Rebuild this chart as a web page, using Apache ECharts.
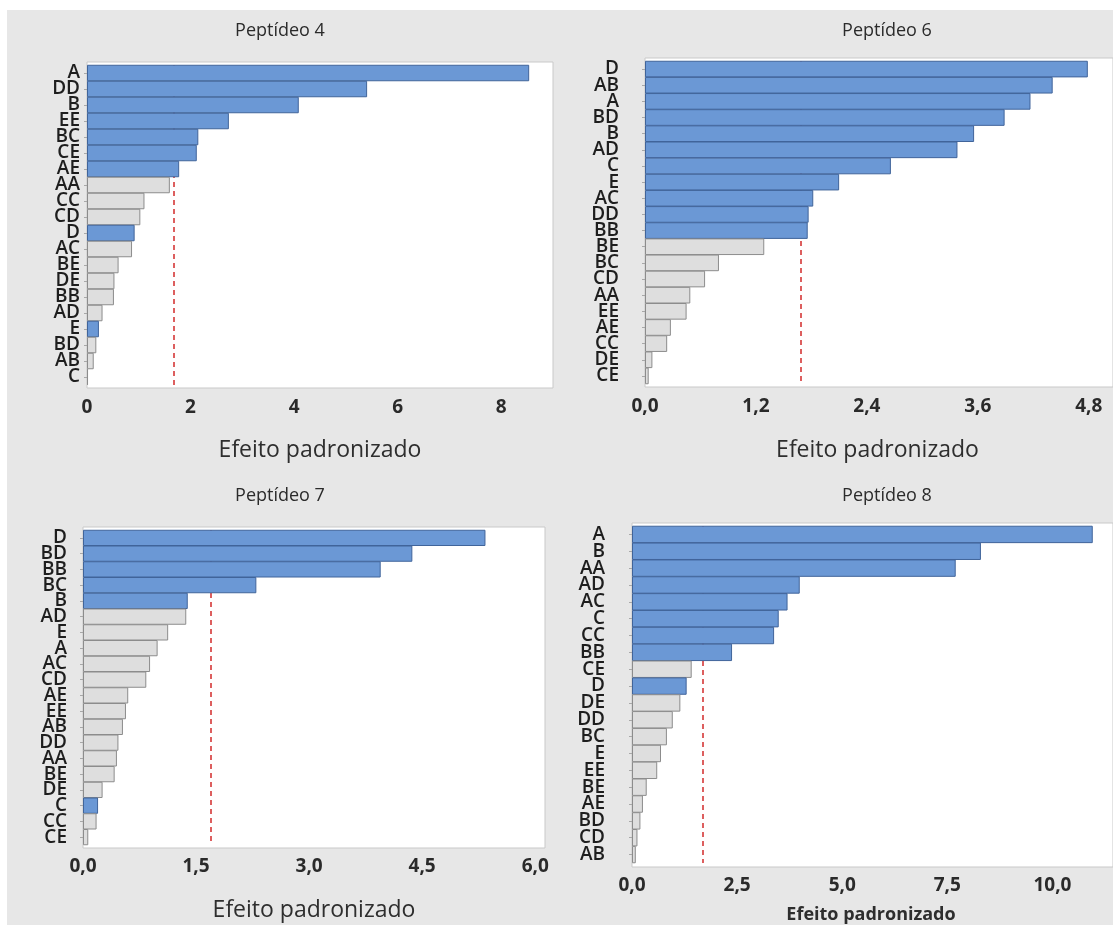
<!DOCTYPE html>
<html>
<head>
<meta charset="utf-8">
<title>Efeito padronizado</title>
<script src="https://cdn.jsdelivr.net/npm/echarts@6/dist/echarts.min.js"></script>
<style>
  html, body { margin: 0; padding: 0; background: #fff; }
  #chart { width: 1113px; height: 925px; }
</style>
</head>
<body>
<div id="chart"></div>
<script>
// Peptídeo 4
const termos4 = ['A', 'DD', 'B', 'EE', 'BC', 'CE', 'AE', 'AA', 'CC', 'CD', 'D', 'AC', 'BE', 'DE', 'BB', 'AD', 'E', 'BD', 'AB', 'C'];
const efeitos4 = [8.54, 5.41, 4.09, 2.74, 2.15, 2.12, 1.78, 1.60, 1.11, 1.03, 0.92, 0.87, 0.61, 0.53, 0.52, 0.30, 0.23, 0.18, 0.13, 0.02];
const azuis4 = ['A', 'DD', 'B', 'EE', 'BC', 'CE', 'AE', 'D', 'E'];
const ticks4 = [0, 2, 4, 6, 8];
const rotulos4 = ['0', '2', '4', '6', '8'];

// Peptídeo 6
const termos6 = ['D', 'AB', 'A', 'BD', 'B', 'AD', 'C', 'E', 'AC', 'DD', 'BB', 'BE', 'BC', 'CD', 'AA', 'EE', 'AE', 'CC', 'DE', 'CE'];
const efeitos6 = [4.79, 4.41, 4.17, 3.89, 3.56, 3.38, 2.66, 2.10, 1.82, 1.77, 1.76, 1.29, 0.80, 0.65, 0.49, 0.45, 0.28, 0.24, 0.08, 0.04];
const azuis6 = ['D', 'AB', 'A', 'BD', 'B', 'AD', 'C', 'E', 'AC', 'DD', 'BB'];
const ticks6 = [0, 1.2, 2.4, 3.6, 4.8];
const rotulos6 = ['0,0', '1,2', '2,4', '3,6', '4,8'];

// Peptídeo 7
const termos7 = ['D', 'BD', 'BB', 'BC', 'B', 'AD', 'E', 'A', 'AC', 'CD', 'AE', 'EE', 'AB', 'DD', 'AA', 'BE', 'DE', 'C', 'CC', 'CE'];
const efeitos7 = [5.34, 4.37, 3.95, 2.30, 1.39, 1.37, 1.13, 0.99, 0.89, 0.84, 0.60, 0.57, 0.53, 0.47, 0.45, 0.42, 0.26, 0.20, 0.18, 0.07];
const azuis7 = ['D', 'BD', 'BB', 'BC', 'B', 'C'];
const ticks7 = [0, 1.5, 3, 4.5, 6];
const rotulos7 = ['0,0', '1,5', '3,0', '4,5', '6,0'];

// Peptídeo 8
const termos8 = ['A', 'B', 'AA', 'AD', 'AC', 'C', 'CC', 'BB', 'CE', 'D', 'DE', 'DD', 'BC', 'E', 'EE', 'BE', 'AE', 'BD', 'CD', 'AB'];
const efeitos8 = [10.96, 8.30, 7.70, 3.99, 3.70, 3.49, 3.38, 2.38, 1.42, 1.30, 1.15, 0.97, 0.83, 0.69, 0.60, 0.35, 0.26, 0.20, 0.13, 0.09];
const azuis8 = ['A', 'B', 'AA', 'AD', 'AC', 'C', 'CC', 'BB', 'D'];
const ticks8 = [0, 2.5, 5, 7.5, 10];
const rotulos8 = ['0,0', '2,5', '5,0', '7,5', '10,0'];

// linha de referência (efeito crítico)
const limites = [1.68, 1.69, 1.70, 1.68];

const azul = '#6b98d5';
const azulBorda = '#40649a';
const cinza = '#dedede';
const cinzaBorda = '#8c8c8c';
const fonte = '"Open Sans", "DejaVu Sans", sans-serif';

// layout de cada painel: área branca [x, y, w, h], limite do eixo, margens
const paineis = [
  { titulo: 'Peptídeo 4', termos: termos4, efeitos: efeitos4, azuis: azuis4, ticks: ticks4, rotulos: rotulos4,
    area: [87, 62, 466, 326], max: 9, tituloPos: [275, 17], margemY: 7, margemX: 13, gapNome: 54, nomeNegrito: false },
  { titulo: 'Peptídeo 6', termos: termos6, efeitos: efeitos6, azuis: azuis6, ticks: ticks6, rotulos: rotulos6,
    area: [645, 58, 468, 329], max: 5.03, tituloPos: [882, 17], margemY: 26, margemX: 13, gapNome: 55, nomeNegrito: false },
  { titulo: 'Peptídeo 7', termos: termos7, efeitos: efeitos7, azuis: azuis7, ticks: ticks7, rotulos: rotulos7,
    area: [83, 527, 462, 321], max: 6.13, tituloPos: [275, 482], margemY: 16, margemX: 12, gapNome: 54, nomeNegrito: false },
  { titulo: 'Peptídeo 8', termos: termos8, efeitos: efeitos8, azuis: azuis8, ticks: ticks8, rotulos: rotulos8,
    area: [632, 523, 481, 344], max: 11.37, tituloPos: [882, 482], margemY: 27, margemX: 13, gapNome: 43, nomeNegrito: true },
];

const inset = 3;

const option = {
  backgroundColor: '#ffffff',
  animation: false,
  title: [],
  grid: [],
  xAxis: [],
  yAxis: [],
  series: [],
  graphic: [
    {
      type: 'rect',
      z: -20,
      silent: true,
      shape: { x: 7, y: 10, width: 1106, height: 915 },
      style: { fill: '#e7e7e7' },
    },
  ],
};

paineis.forEach((p, i) => {
  const [x, y, w, h] = p.area;
  // barras encostadas umas nas outras, como no gráfico de Pareto do Minitab
  const faixa = (h - 2 * inset) / p.termos.length;

  option.graphic.push({
    type: 'rect',
    z: -10,
    silent: true,
    shape: { x: x, y: y, width: w, height: h },
    style: { fill: '#ffffff', stroke: '#c9c9c9', lineWidth: 1 },
  });

  option.title.push({
    text: p.titulo,
    left: p.tituloPos[0],
    top: p.tituloPos[1],
    textAlign: 'center',
    textStyle: { fontFamily: fonte, fontSize: 18, fontWeight: 'normal', color: '#2b2b2b' },
  });

  option.grid.push({
    left: x,
    top: y + inset,
    width: w,
    height: h - 2 * inset,
  });

  option.xAxis.push({
    type: 'value',
    gridIndex: i,
    min: 0,
    max: p.max,
    interval: p.ticks[1],
    name: 'Efeito padronizado',
    nameLocation: 'middle',
    nameGap: p.gapNome,
    nameTextStyle: {
      fontFamily: fonte,
      fontSize: p.nomeNegrito ? 18 : 23,
      fontWeight: p.nomeNegrito ? 'bold' : 'normal',
      color: '#2e2e2e',
    },
    axisLine: { show: false },
    axisTick: { show: false },
    splitLine: { show: false },
    axisLabel: {
      margin: p.margemX,
      fontFamily: fonte,
      fontSize: 19,
      fontWeight: 'bold',
      color: '#2a2a2a',
      formatter: (v) => {
        const k = p.ticks.findIndex((t) => Math.abs(t - v) < 1e-6);
        return k >= 0 ? p.rotulos[k] : '';
      },
    },
  });

  option.yAxis.push({
    type: 'category',
    gridIndex: i,
    inverse: true,
    data: p.termos,
    axisLine: { show: false },
    axisTick: { show: true, length: 3, alignWithLabel: true, lineStyle: { color: '#a8a8a8' } },
    axisLabel: {
      interval: 0,
      margin: p.margemY,
      fontFamily: fonte,
      fontSize: 19,
      fontWeight: 600,
      color: '#1e1e1e',
    },
  });

  option.series.push({
    type: 'bar',
    xAxisIndex: i,
    yAxisIndex: i,
    barWidth: faixa + 0.5,
    barGap: '0%',
    barCategoryGap: 0,
    data: p.efeitos.map((v, k) => {
      const destaque = p.azuis.includes(p.termos[k]);
      return {
        value: v,
        itemStyle: {
          color: destaque ? azul : cinza,
          borderColor: destaque ? azulBorda : cinzaBorda,
          borderWidth: 1,
        },
      };
    }),
    markLine: {
      silent: true,
      z: 1,
      symbol: 'none',
      label: { show: false },
      lineStyle: { color: '#d22b2b', type: [5, 4], width: 1.5 },
      data: [{ xAxis: limites[i] }],
    },
  });
});

const mychart = echarts.init(document.getElementById('chart'));
mychart.setOption(option);

window.addEventListener('resize', () => {
  mychart.resize();
});
</script>
</body>
</html>
